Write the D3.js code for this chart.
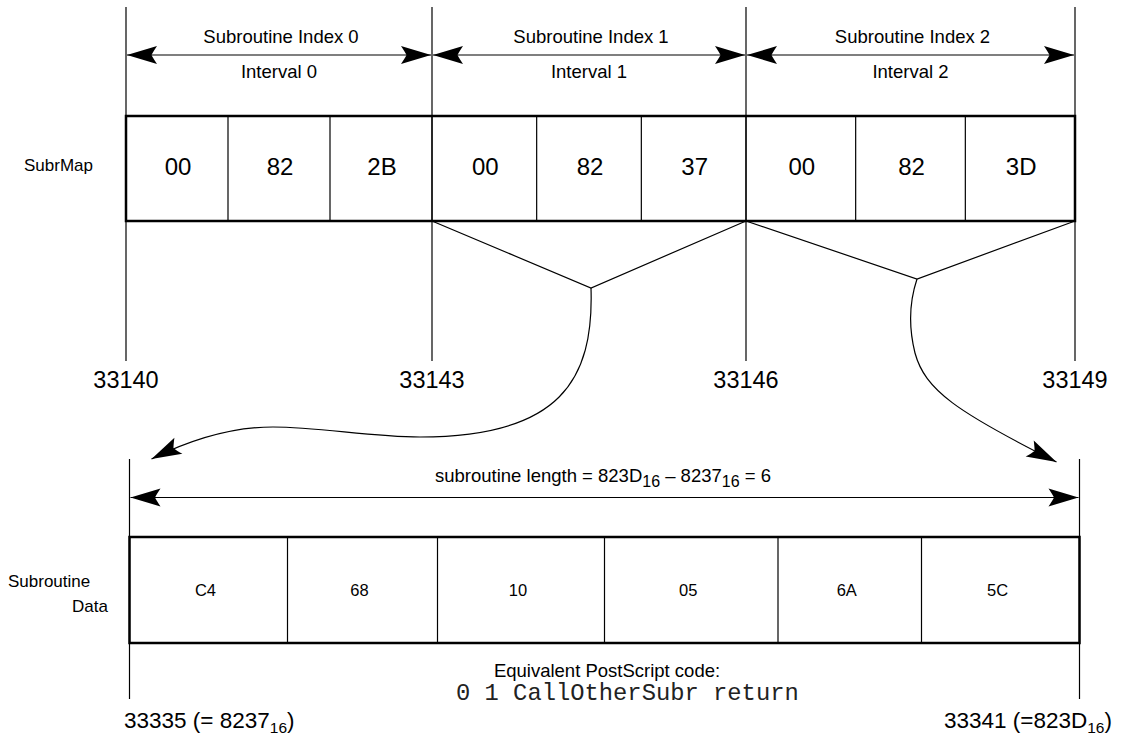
<!DOCTYPE html>
<html>
<head>
<meta charset="utf-8">
<script src="https://cdn.jsdelivr.net/npm/d3@7"></script>
<style>
  body { margin: 0; background: #fff; }
  text { font-family: "Liberation Sans", Arial, Helvetica, sans-serif; fill: #000; }
  .mono { font-family: "Liberation Mono", "Courier New", monospace; }
</style>
</head>
<body>
<div id="chart"></div>
<script>
// Data
var subrMapBytes = ["00", "82", "2B", "00", "82", "37", "00", "82", "3D"];
var intervalAddrs = [33140, 33143, 33146, 33149];
var indexLabels = ["Subroutine Index 0", "Subroutine Index 1", "Subroutine Index 2"];
var intervalLabels = ["Interval 0", "Interval 1", "Interval 2"];
var subrDataBytes = ["C4", "68", "10", "05", "6A", "5C"];
var dataAddrs = [33335, 33341];
var dataHex = ["8237", "823D"];
var codeLine = "0 1 CallOtherSubr return";

var svgWidth = 1126;
var svgHeight = 739;

var svg = d3.select("#chart")
    .append("svg")
    .attr("width", svgWidth)
    .attr("height", svgHeight);

// Arrow head used for every arrow
var defs = svg.append("defs");
defs.append("marker")
    .attr("id", "head")
    .attr("markerUnits", "userSpaceOnUse")
    .attr("viewBox", "-32 -11 34 22")
    .attr("refX", 0)
    .attr("refY", 0)
    .attr("markerWidth", 34)
    .attr("markerHeight", 22)
    .attr("orient", "auto-start-reverse")
    .append("path")
    .attr("d", "M0,0 L-30,-9 Q-26,-3 -24.5,0 Q-26,3 -30,9 Z")
    .attr("fill", "#000");

// Scales: address -> x position
var xTop = d3.scaleLinear()
    .domain(intervalAddrs)
    .range([126, 432, 746, 1075]);

var dataDomain = d3.range(dataAddrs[0], dataAddrs[1] + 1);
var xBot = d3.scaleLinear()
    .domain(dataDomain)
    .range([129.5, 287.5, 437.5, 604.5, 778, 921.5, 1079.5]);

var topBox = { y0: 116, y1: 221 };
var botBox = { y0: 537, y1: 643 };

// ---------- SubrMap row ----------
var topRow = svg.append("g");

// interval boundary lines
topRow.selectAll("line.ival")
    .data(intervalAddrs)
    .enter()
    .append("line")
    .attr("x1", d => xTop(d))
    .attr("x2", d => xTop(d))
    .attr("y1", 7)
    .attr("y2", 361)
    .attr("stroke", "#000")
    .attr("stroke-width", 1.2);

// byte cell dividers
var byteAddrs = subrMapBytes.map((b, i) => intervalAddrs[0] + i);
topRow.selectAll("line.cell")
    .data(byteAddrs.slice(1))
    .enter()
    .append("line")
    .attr("x1", d => xTop(d))
    .attr("x2", d => xTop(d))
    .attr("y1", topBox.y0)
    .attr("y2", topBox.y1)
    .attr("stroke", "#000")
    .attr("stroke-width", 1.2);

topRow.append("rect")
    .attr("x", xTop(intervalAddrs[0]))
    .attr("y", topBox.y0)
    .attr("width", xTop(intervalAddrs[3]) - xTop(intervalAddrs[0]))
    .attr("height", topBox.y1 - topBox.y0)
    .attr("fill", "none")
    .attr("stroke", "#000")
    .attr("stroke-width", 2.5);

topRow.selectAll("text.byte")
    .data(subrMapBytes)
    .enter()
    .append("text")
    .attr("x", (d, i) => (xTop(byteAddrs[i]) + xTop(byteAddrs[i] + 1)) / 2 + 1)
    .attr("y", 175)
    .attr("text-anchor", "middle")
    .style("font-size", "24px")
    .text(d => d);

// interval arrows and labels
var intervals = intervalLabels.map((lab, i) => ({
    a: intervalAddrs[i], b: intervalAddrs[i + 1], index: indexLabels[i], label: lab
}));

topRow.selectAll("line.span")
    .data(intervals)
    .enter()
    .append("line")
    .attr("x1", d => xTop(d.a) + 1)
    .attr("x2", d => xTop(d.b) - 1)
    .attr("y1", 55)
    .attr("y2", 55)
    .attr("stroke", "#000")
    .attr("stroke-width", 1.2)
    .attr("marker-start", "url(#head)")
    .attr("marker-end", "url(#head)");

topRow.selectAll("text.index")
    .data(intervals)
    .enter()
    .append("text")
    .attr("x", d => (xTop(d.a) + xTop(d.b)) / 2 + 2)
    .attr("y", 42.5)
    .attr("text-anchor", "middle")
    .style("font-size", "18.5px")
    .text(d => d.index);

topRow.selectAll("text.interval")
    .data(intervals)
    .enter()
    .append("text")
    .attr("x", d => (xTop(d.a) + xTop(d.b)) / 2)
    .attr("y", 78)
    .attr("text-anchor", "middle")
    .style("font-size", "18.5px")
    .text(d => d.label);

// address labels under the lines
topRow.selectAll("text.addr")
    .data(intervalAddrs)
    .enter()
    .append("text")
    .attr("x", d => xTop(d))
    .attr("y", 388)
    .attr("text-anchor", "middle")
    .style("font-size", "23.5px")
    .text(d => d);

svg.append("text")
    .attr("x", 24)
    .attr("y", 171)
    .style("font-size", "17px")
    .text("SubrMap");

// ---------- V connectors and curved arrows ----------
var apexL = { x: 591, y: 288 };
var apexR = { x: 917, y: 279 };

[[intervalAddrs[1], apexL, intervalAddrs[2]], [intervalAddrs[2], apexR, intervalAddrs[3]]]
    .forEach(function (v) {
        svg.append("polyline")
            .attr("points", [[xTop(v[0]), topBox.y1], [v[1].x, v[1].y], [xTop(v[2]), topBox.y1]].join(" "))
            .attr("fill", "none")
            .attr("stroke", "#000")
            .attr("stroke-width", 1.2);
    });

var tipL = { x: xBot(dataAddrs[0]) + 22, y: 459 };
var tipR = { x: xBot(dataAddrs[1]) - 23, y: 462 };

var pL = d3.path();
pL.moveTo(apexL.x, apexL.y);
pL.bezierCurveTo(apexL.x + 3, 380, 560, 437, 420, 437);
pL.bezierCurveTo(370, 437, 320, 427, 273, 427);
pL.bezierCurveTo(240, 427, 200, 435, tipL.x, tipL.y);

var pR = d3.path();
pR.moveTo(apexR.x, apexR.y);
pR.bezierCurveTo(910, 300, 908, 325, 915, 353);
pR.bezierCurveTo(925, 390, 957, 412, tipR.x, tipR.y);

svg.selectAll("path.curve")
    .data([pL.toString(), pR.toString()])
    .enter()
    .append("path")
    .attr("d", d => d)
    .attr("fill", "none")
    .attr("stroke", "#000")
    .attr("stroke-width", 1.2)
    .attr("marker-end", "url(#head)");

// ---------- Subroutine data row ----------
var botRow = svg.append("g");

botRow.selectAll("line.edge")
    .data(dataAddrs)
    .enter()
    .append("line")
    .attr("x1", d => xBot(d))
    .attr("x2", d => xBot(d))
    .attr("y1", 459)
    .attr("y2", 699)
    .attr("stroke", "#000")
    .attr("stroke-width", 1.2);

botRow.append("line")
    .attr("x1", xBot(dataAddrs[0]) + 1)
    .attr("x2", xBot(dataAddrs[1]) - 1)
    .attr("y1", 497.5)
    .attr("y2", 497.5)
    .attr("stroke", "#000")
    .attr("stroke-width", 1.2)
    .attr("marker-start", "url(#head)")
    .attr("marker-end", "url(#head)");

botRow.selectAll("line.cell")
    .data(dataDomain.slice(1, -1))
    .enter()
    .append("line")
    .attr("x1", d => xBot(d))
    .attr("x2", d => xBot(d))
    .attr("y1", botBox.y0)
    .attr("y2", botBox.y1)
    .attr("stroke", "#000")
    .attr("stroke-width", 1.2);

botRow.append("rect")
    .attr("x", xBot(dataAddrs[0]))
    .attr("y", botBox.y0)
    .attr("width", xBot(dataAddrs[1]) - xBot(dataAddrs[0]))
    .attr("height", botBox.y1 - botBox.y0)
    .attr("fill", "none")
    .attr("stroke", "#000")
    .attr("stroke-width", 2.5);

botRow.selectAll("text.byte")
    .data(subrDataBytes)
    .enter()
    .append("text")
    .attr("x", (d, i) => (xBot(dataDomain[i]) + xBot(dataDomain[i + 1])) / 2 - 3)
    .attr("y", 596)
    .attr("text-anchor", "middle")
    .style("font-size", "16.5px")
    .text(d => d);

// length label with subscripts
var len = botRow.append("text")
    .attr("x", 435)
    .attr("y", 482)
    .style("font-size", "18.5px");
len.append("tspan").text("subroutine length = " + dataHex[1]);
len.append("tspan").attr("dy", 5).style("font-size", "16px").text("16");
len.append("tspan").attr("dy", -5).text(" \u2013 " + dataHex[0]);
len.append("tspan").attr("dy", 5).style("font-size", "16px").text("16");
len.append("tspan").attr("dy", -5).text(" = " + (dataAddrs[1] - dataAddrs[0]));

svg.append("text")
    .attr("x", 8)
    .attr("y", 587)
    .style("font-size", "17px")
    .text("Subroutine");
svg.append("text")
    .attr("x", 108)
    .attr("y", 612)
    .attr("text-anchor", "end")
    .style("font-size", "17px")
    .text("Data");

botRow.append("text")
    .attr("x", 607)
    .attr("y", 677)
    .attr("text-anchor", "middle")
    .style("font-size", "18.5px")
    .text("Equivalent PostScript code:");

botRow.append("text")
    .attr("class", "mono")
    .attr("x", 456)
    .attr("y", 700)
    .style("font-size", "23.8px")
    .style("white-space", "pre")
    .style("fill", "#222")
    .text(codeLine);

// address labels with hex subscripts
[{ x: 124, addr: dataAddrs[0], eq: " (= ", hex: dataHex[0] },
 { x: 944, addr: dataAddrs[1], eq: " (=", hex: dataHex[1] }].forEach(function (d) {
    var t = botRow.append("text")
        .attr("x", d.x)
        .attr("y", 728)
        .style("font-size", "22.5px");
    t.append("tspan").text(d.addr + d.eq + d.hex);
    t.append("tspan").attr("dy", 5).style("font-size", "15.5px").text("16");
    t.append("tspan").attr("dy", -5).text(")");
});
</script>
</body>
</html>
